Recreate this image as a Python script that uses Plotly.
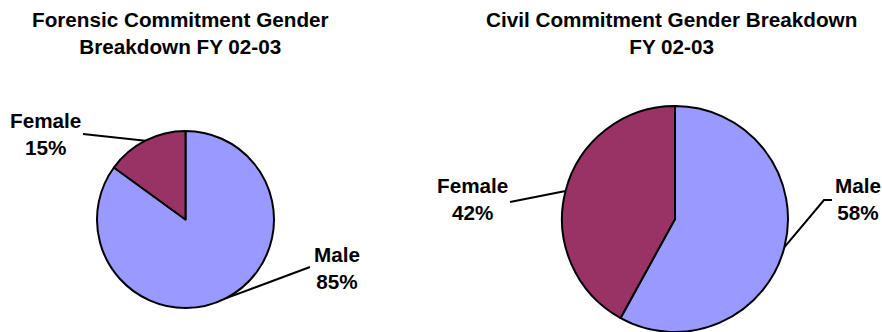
import math
import plotly.graph_objects as go

W, H = 882, 332

# Data
genders = ["Male", "Female"]
forensic_pct = [85, 15]
civil_pct = [58, 42]
slice_colors = ["#9999FF", "#993366"]

forensic_title = "Forensic Commitment Gender<br>Breakdown FY 02-03"
civil_title = "Civil Commitment Gender Breakdown<br>FY 02-03"

FONT = "Liberation Sans, Arial, sans-serif"
FS = 20.7

# Layout of each pie, in pixels from the top-left corner
charts = [
    dict(values=forensic_pct, title=forensic_title, cx=185.5, cy=219.5, r=88.5, tx=180.5,
         labels={"Male": dict(box=(337, 268), path=[(310, 267)]),
                 "Female": dict(box=(45, 134), path=[(83, 134)])}),
    dict(values=civil_pct, title=civil_title, cx=675.0, cy=219.0, r=113.0, tx=671.5,
         labels={"Male": dict(box=(858, 199), path=[(824, 200), (832, 200)]),
                 "Female": dict(box=(472, 199), path=[(510, 202)])}),
]


def px(x):
    return x / W


def py(y):
    return 1 - y / H


fig = go.Figure()
annotations = []
shapes = []

for ch in charts:
    cx, cy, r = ch["cx"], ch["cy"], ch["r"]
    fig.add_trace(go.Pie(
        labels=genders,
        values=ch["values"],
        sort=False,
        direction="clockwise",
        rotation=0,
        marker=dict(colors=slice_colors, line=dict(color="#000000", width=2)),
        textinfo="none",
        hoverinfo="label+percent",
        showlegend=False,
        domain=dict(x=[px(cx - r), px(cx + r)], y=[max(0, (H - cy - r) / H), (H - cy + r) / H]),
    ))

    annotations.append(dict(
        x=px(ch["tx"]), y=py(32.5), xref="paper", yref="paper",
        text="<b>" + ch["title"] + "</b>", showarrow=False,
        xanchor="center", yanchor="middle", align="center",
        font=dict(family=FONT, size=FS, color="#000000"),
    ))

    total = sum(ch["values"])
    cum = 0
    for name, v in zip(genders, ch["values"]):
        mid = 2 * math.pi * (cum + v / 2) / total
        cum += v
        ex = cx + r * math.sin(mid)
        ey = cy - r * math.cos(mid)
        lab = ch["labels"][name]
        pts = [(ex, ey)] + lab["path"]
        d = "M " + " L ".join(f"{px(x):.5f},{py(y):.5f}" for x, y in pts)
        shapes.append(dict(type="path", path=d, xref="paper", yref="paper",
                           line=dict(color="#000000", width=2)))
        pct = round(100 * v / total)
        bx, by = lab["box"]
        annotations.append(dict(
            x=px(bx), y=py(by), xref="paper", yref="paper",
            text=f"<b>{name}<br>{pct}%</b>", showarrow=False,
            xanchor="center", yanchor="middle", align="center",
            font=dict(family=FONT, size=FS, color="#000000"),
        ))

fig.update_layout(
    width=W, height=H,
    margin=dict(l=0, r=0, t=0, b=0),
    paper_bgcolor="#FFFFFF",
    plot_bgcolor="#FFFFFF",
    annotations=annotations,
    shapes=shapes,
)

fig.write_html("out.html")
